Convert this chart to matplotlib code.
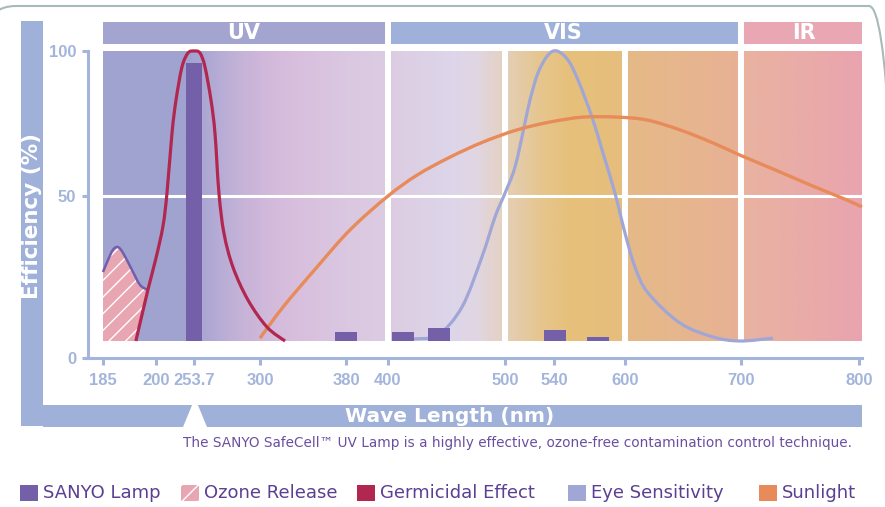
import numpy as np
import matplotlib
matplotlib.use('Agg')
import matplotlib.pyplot as plt
from matplotlib.colors import LinearSegmentedColormap
from matplotlib.patches import Rectangle, Polygon, FancyBboxPatch, PathPatch
from matplotlib.path import Path
from matplotlib.transforms import IdentityTransform, blended_transform_factory

W, H = 885, 507

# ---- data ----
tick_nm = [185, 200, 253.7, 300, 380, 400, 500, 540, 600, 700, 800]
tick_labels = ['185', '200', '253.7', '300', '380', '400', '500', '540', '600', '700', '800']

lamp_nm = [253.7, 380, 413, 444, 541, 577]
lamp_eff = [96, 3.1, 3.1, 4.5, 3.8, 1.4]

ozone_nm = [185, 186.4, 187.8, 189.2, 190.7, 193.2, 195.5, 197.7]
ozone_eff = [23.8, 27.9, 31.4, 32.4, 30.3, 24.5, 19.3, 17.6]

germ_nm = [194.3, 197.7, 200.0, 209.9, 215.5, 222.6, 228.3, 236.7, 245.2, 253.7,
           257.9, 261.4, 265.6, 268.4, 271.2, 274.7, 281.0, 291.6, 306.5, 323.3]
germ_eff = [0, 17.6, 28.6, 39.7, 51, 71.7, 83.1, 94.5, 99.3, 100,
            99.3, 94.5, 83.1, 71.7, 51, 37.2, 25.5, 14.1, 4.8, 0]

eye_nm = [421.4, 442.7, 463.2, 480.3, 491.5, 500.0, 508.2, 516.3, 520.4, 526.9, 535.1, 542.5,
          551.8, 560.3, 572.1, 580.6, 591.5, 600.0, 608.6, 619.8, 647.4, 675.9, 699.1, 727.1]
eye_eff = [0.7, 2.1, 11.7, 29, 42.8, 51, 60, 75.2, 83.1, 92.4, 98.6, 100,
           96.9, 90, 77.2, 65.9, 51, 37.2, 25.5, 16.6, 6.2, 1.4, 0, 1.0]

sun_nm = [300, 321.4, 353, 381.9, 399.5, 424.8, 453, 481.2, 509.8, 536.7, 564.5, 593.2,
          619, 647.4, 675.9, 699.1, 733, 761, 789.8, 802.5]
sun_eff = [1.0, 11.7, 25.5, 38.3, 49.7, 57.2, 63.4, 68.6, 72.8, 75.5, 77.2, 77.2,
           76.2, 72.8, 68.3, 64.1, 58.3, 53.4, 48.6, 46.2]

legend_labels = ['SANYO Lamp', 'Ozone Release', 'Germicidal Effect', 'Eye Sensitivity', 'Sunlight']
caption = 'The SANYO SafeCell\u2122 UV Lamp is a highly effective, ozone-free contamination control technique.'

# ---- colours ----
c_lamp = '#7360a9'
c_ozone = '#e8a6b2'
c_ozone_line = '#6f5fae'
c_germ = '#b1274f'
c_eye = '#a0a7d6'
c_sun = '#e88b5b'
c_axis = '#a4b5dc'
c_band = '#9fb1d9'
c_text = '#5b3f93'

# the wavelength axis is drawn unevenly: pixel position of each tick
tick_pos = np.array([103, 156, 194, 260, 346, 388, 505, 554, 625, 741, 859], float)
nm_arr = np.array(tick_nm, float)
PX_PER_PCT = (341 - 51) / 100


def fwd(x):
    x = np.asarray(x, float)
    out = np.interp(x, nm_arr, tick_pos)
    lo_s = (tick_pos[1] - tick_pos[0]) / (nm_arr[1] - nm_arr[0])
    hi_s = (tick_pos[-1] - tick_pos[-2]) / (nm_arr[-1] - nm_arr[-2])
    out = np.where(x < nm_arr[0], tick_pos[0] + (x - nm_arr[0]) * lo_s, out)
    out = np.where(x > nm_arr[-1], tick_pos[-1] + (x - nm_arr[-1]) * hi_s, out)
    return out


def inv(p):
    p = np.asarray(p, float)
    out = np.interp(p, tick_pos, nm_arr)
    lo_s = (nm_arr[1] - nm_arr[0]) / (tick_pos[1] - tick_pos[0])
    hi_s = (nm_arr[-1] - nm_arr[-2]) / (tick_pos[-1] - tick_pos[-2])
    out = np.where(p < tick_pos[0], nm_arr[0] + (p - tick_pos[0]) * lo_s, out)
    out = np.where(p > tick_pos[-1], nm_arr[-1] + (p - tick_pos[-1]) * hi_s, out)
    return out


def smooth_path(xs, ys):
    # bezier curve through the points, built in screen-like units
    pts = np.column_stack([fwd(xs), np.asarray(ys, float) * PX_PER_PCT])
    n = len(pts)
    verts = [pts[0]]
    codes = [Path.MOVETO]
    for i in range(n - 1):
        p0 = pts[i - 1] if i > 0 else pts[i]
        p1, p2 = pts[i], pts[i + 1]
        p3 = pts[i + 2] if i + 2 < n else pts[i + 1]
        verts += [p1 + (p2 - p0) / 6, p2 - (p3 - p1) / 6, p2]
        codes += [Path.CURVE4] * 3
    verts = np.array(verts)
    data = np.column_stack([inv(verts[:, 0]), verts[:, 1] / PX_PER_PCT])
    return data, codes


def draw_curve(ax, xs, ys, color, lw, z):
    v, c = smooth_path(xs, ys)
    ax.add_patch(PathPatch(Path(v, c), facecolor='none', edgecolor=color, lw=lw,
                           capstyle='butt', zorder=z, clip_on=False))


def fx(px):
    return px / W


def fy(py):
    return 1 - py / H


fig = plt.figure(figsize=(W / 100, H / 100), dpi=100)

# outer rounded frame (only its top edge and corners fall inside the picture)
frame = FancyBboxPatch((-12, -80), W + 24, H - 6 + 80, boxstyle='round,pad=0,rounding_size=28',
                       transform=IdentityTransform(), facecolor='none', edgecolor='#a9b9b9', lw=1.5)
fig.patches.append(frame)

# side and bottom bands
fig.patches.append(Rectangle((fx(21), fy(426)), fx(22), 405 / H, transform=fig.transFigure,
                             facecolor=c_band, edgecolor='none'))
fig.patches.append(Rectangle((fx(43), fy(427)), fx(819), 22 / H, transform=fig.transFigure,
                             facecolor=c_band, edgecolor='none'))
fig.patches.append(Polygon([(fx(195), fy(398)), (fx(183), fy(427)), (fx(207), fy(427))],
                           closed=True, transform=fig.transFigure, facecolor='white', edgecolor='none'))
fig.text(fx(32), fy(216), 'Efficiency (%)', rotation=90, ha='center', va='center',
         color='white', fontsize=15.5, fontweight='bold', family='DejaVu Sans')
fig.text(fx(450), fy(416), 'Wave Length (nm)', ha='center', va='center',
         color='white', fontsize=14.5, fontweight='bold', family='DejaVu Sans')

ax = fig.add_axes([fx(88), fy(358), fx(862 - 88), (358 - 51) / H])
ax.set_facecolor('white')

y0 = -(358 - 341) / PX_PER_PCT
fy0 = -y0 / (100 - y0)
x_left = float(inv(88))
x_right = float(inv(862))
f185 = (fwd(185) - 88) / (862 - 88)

# background gradient
stops = [(103, '#a0a3cf'), (186, '#a0a3cf'), (205, '#ada8d3'), (240, '#c6b3d8'), (280, '#d6bcdc'),
         (330, '#dac5e0'), (388, '#dccce2'), (450, '#ddd5e9'), (475, '#e0d6e4'), (503, '#e5d1c3'),
         (508, '#e4cfb6'), (540, '#e6c68f'), (570, '#e6c17a'), (623, '#e6bd7e'), (629, '#e5b987'),
         (700, '#e7b590'), (739, '#e8b096'), (743, '#e9b3a0'), (862, '#e9a4af')]
cm = LinearSegmentedColormap.from_list('bg', [((p - 103) / (862 - 103), c) for p, c in stops])
grad = np.linspace(0, 1, 800).reshape(1, -1)
ax.imshow(grad, cmap=cm, aspect='auto', extent=(f185, 1, fy0, 1), transform=ax.transAxes,
          zorder=0, interpolation='bilinear')

ax.set_xscale('function', functions=(fwd, inv))

# header bands
bt = blended_transform_factory(ax.transData, ax.transAxes)
hy0 = (358 - 44) / 307
hy1 = (358 - 22) / 307
for (a, b), c in zip([(185, 400), (400, 700), (700, x_right)], ['#a3a5d0', '#9fb0da', '#e9a6b3']):
    ax.add_patch(Rectangle((a, hy0), b - a, hy1 - hy0, transform=bt, facecolor=c,
                           edgecolor='none', clip_on=False))
for name, xc in zip(['UV', 'VIS', 'IR'], [244, 563, 804]):
    fig.text(fx(xc), fy(33), name, ha='center', va='center', color='white',
             fontsize=15, fontweight='bold', family='DejaVu Sans')

# white separators
for nm in [400, 500, 600, 700]:
    top = hy1 if nm in (400, 700) else 1
    ax.axvline(nm, ymin=fy0, ymax=top, color='white', lw=4.3, clip_on=False, zorder=1)
ax.axhline(50, xmin=f185, xmax=1, color='white', lw=2.2, zorder=1)

# curves
draw_curve(ax, eye_nm, eye_eff, c_eye, 2.3, 3)
draw_curve(ax, sun_nm, sun_eff, c_sun, 2.4, 3)

# lamp bars
bar_px = np.array([16] + [22] * (len(lamp_nm) - 1), float)
centres = fwd(lamp_nm)
lefts = inv(centres - bar_px / 2)
rights = inv(centres + bar_px / 2)
ax.bar(lefts, lamp_eff, width=rights - lefts, align='edge', color=c_lamp, zorder=4)

# ozone release area
plt.rcParams['hatch.linewidth'] = 1.0
oz_v, oz_c = smooth_path(ozone_nm, ozone_eff)
oz_v = np.vstack([oz_v, [[germ_nm[0], 0], [ozone_nm[0], 0], [ozone_nm[0], 0]]])
oz_c = oz_c + [Path.LINETO, Path.LINETO, Path.CLOSEPOLY]
ax.add_patch(PathPatch(Path(oz_v, oz_c), facecolor=c_ozone, edgecolor='white', hatch='//',
                       lw=0, zorder=2))
draw_curve(ax, ozone_nm, ozone_eff, c_ozone_line, 1.8, 3)

draw_curve(ax, germ_nm, germ_eff, c_germ, 2.3, 5)

ax.set_xlim(x_left, x_right)
ax.set_ylim(y0, 100)

# axes styling
for s in ['top', 'right']:
    ax.spines[s].set_visible(False)
for s in ['left', 'bottom']:
    ax.spines[s].set_color(c_axis)
    ax.spines[s].set_linewidth(2.2)

ax.set_xticks(tick_nm)
ax.set_xticklabels(tick_labels)
ax.set_yticks([y0, 50, 100])
ax.set_yticklabels(['0', '50', '100'])
ax.tick_params(axis='x', direction='out', length=5, width=2.2, color=c_axis, pad=6)
ax.tick_params(axis='y', direction='out', length=4.5, width=2.2, color=c_axis, pad=4)
for lab in ax.get_xticklabels() + ax.get_yticklabels():
    lab.set_color(c_axis)
    lab.set_fontweight('bold')
    lab.set_fontsize(12)
    lab.set_family('Liberation Sans')

# caption
fig.text(fx(852), fy(443), caption, ha='right', va='center', color='#6b4f9f',
         fontsize=9.8, family='DejaVu Sans')

# legend
leg_x = [20, 181, 357, 568, 759]
leg_face = [c_lamp, c_ozone, c_germ, c_eye, c_sun]
for x, lab, fc in zip(leg_x, legend_labels, leg_face):
    r = Rectangle((fx(x), fy(501)), fx(18), 16 / H, transform=fig.transFigure,
                  facecolor=fc, edgecolor='white' if lab == 'Ozone Release' else 'none',
                  hatch='//' if lab == 'Ozone Release' else None, lw=0)
    fig.patches.append(r)
    fig.text(fx(x + 23), fy(493), lab, ha='left', va='center', color=c_text,
             fontsize=13, family='DejaVu Sans')

fig.savefig('out.png', dpi=100)
